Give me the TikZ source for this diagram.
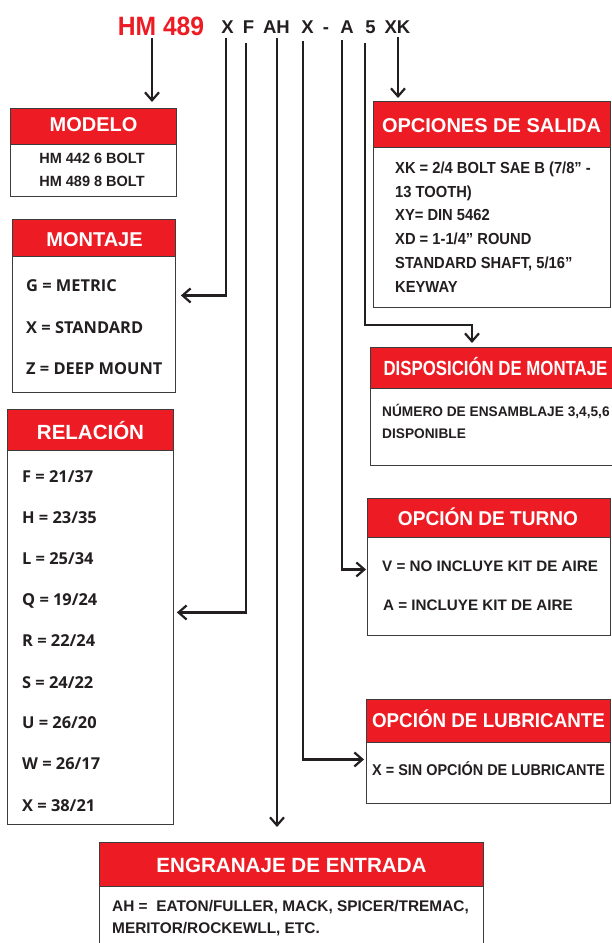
\documentclass[tikz,border=0pt]{standalone}
\usepackage{fontspec}
\setmainfont{Liberation Sans}
\newfontfamily\osans{Open Sans}
\usetikzlibrary{arrows.meta}
\definecolor{hred}{HTML}{ED1C24}
\definecolor{ink}{HTML}{231F20}
\definecolor{frame}{HTML}{3C3C3C}
\newcommand{\opcx}[1]{\scalebox{0.92}[1]{#1}}
\begin{document}
\begin{tikzpicture}[x=1pt,y=-1pt,
  conn/.style={draw=ink, line width=2.2pt, -{Straight Barb[length=8pt,width=14pt]}},
  boxframe/.style={draw=frame, line width=0.9pt, fill=white, inner sep=0pt, anchor=north west},
  hdrband/.style={draw=frame, line width=0.9pt, fill=hred, inner sep=0pt, anchor=north west},
  htext/.style={text=white, font=\bfseries\fontsize{20}{24}\selectfont, anchor=base, inner sep=0pt},
  btext/.style={text=ink, font=\bfseries\fontsize{14.8}{17}\selectfont, anchor=base west, inner sep=0pt},
  otext/.style={text=ink, font=\osans\bfseries\fontsize{16.4}{19}\selectfont, anchor=base west, inner sep=0pt},
  code/.style={text=ink, font=\bfseries\fontsize{18.5}{22}\selectfont, anchor=base, inner sep=0pt},
]
\useasboundingbox (0,0) rectangle (611,943);
\fill[white] (0,0) rectangle (611,943);

% code line
\node[code, text=hred, font=\bfseries\fontsize{26.5}{30}\selectfont] (hm) at (161,35) {\scalebox{0.93}[1]{HM 489}};
\node[code] (cX1) at (227.5,33) {X};
\node[code] (cF) at (248.5,33) {F};
\node[code] (cAH) at (276.5,33) {AH};
\node[code] (cX2) at (307.5,33) {X};
\node[code] (cdash) at (326,33) {-};
\node[code] (cA) at (347,33) {A};
\node[code] (c5) at (370.5,33) {5};
\node[code] (cXK) at (397.5,33) {XK};

% MODELO
\node[boxframe, minimum width=166pt, minimum height=88pt] (modelo) at (10,108) {};
\node[hdrband, minimum width=166pt, minimum height=36pt] (modeloH) at (10,108) {};
\node[htext] (modeloT) at (93.5,131) {MODELO};
\node[btext, anchor=base, font=\bfseries\fontsize{14.8}{17}\selectfont] (mod1) at (92,163) {\scalebox{0.98}[1]{HM 442 6 BOLT}};
\node[btext, anchor=base, font=\bfseries\fontsize{14.8}{17}\selectfont] (mod2) at (92,186) {\scalebox{0.98}[1]{HM 489 8 BOLT}};

% MONTAJE
\node[boxframe, minimum width=163pt, minimum height=173pt] (montaje) at (12,219) {};
\node[hdrband, minimum width=163pt, minimum height=37pt] (montajeH) at (12,219) {};
\node[htext] (montajeT) at (94.5,246) {MONTAJE};
\node[otext] (mon1) at (26,291) {G = METRIC};
\node[otext] (mon2) at (26,333) {X = STANDARD};
\node[otext] (mon3) at (26,374) {Z = DEEP MOUNT};

% RELACION
\node[boxframe, minimum width=166pt, minimum height=415pt] (relacion) at (7,409) {};
\node[hdrband, minimum width=166pt, minimum height=41pt] (relacionH) at (7,409) {};
\node[htext, font=\bfseries\fontsize{20.5}{24}\selectfont] (relacionT) at (90.5,439) {RELACIÓN};
\node[otext] (r1) at (22,482) {F = 21/37};
\node[otext] (r2) at (22,523) {H = 23/35};
\node[otext] (r3) at (22,564) {L = 25/34};
\node[otext] (r4) at (22,605) {Q = 19/24};
\node[otext] (r5) at (22,646) {R = 22/24};
\node[otext] (r6) at (22,688) {S = 24/22};
\node[otext] (r7) at (22,728) {U = 26/20};
\node[otext] (r8) at (22,769) {W = 26/17};
\node[otext] (r9) at (22,811) {X = 38/21};

% OPCIONES DE SALIDA
\node[boxframe, minimum width=237pt, minimum height=206pt] (opc) at (373,101) {};
\node[hdrband, minimum width=237pt, minimum height=46pt] (opcH) at (373,101) {};
\node[htext] (opcT) at (491.5,132) {OPCIONES DE SALIDA};
\tikzset{otx/.style={btext, font=\bfseries\fontsize{16}{19}\selectfont}}
\node[otx] (o1) at (395,173.5) {\opcx{XK = 2/4 BOLT SAE B (7/8” -}};
\node[otx] (o2) at (395,197.5) {\opcx{13 TOOTH)}};
\node[otx] (o3) at (395,220.5) {\opcx{XY= DIN 5462}};
\node[otx] (o4) at (395,244.5) {\opcx{XD = 1-1/4” ROUND}};
\node[otx] (o5) at (395,268.5) {\opcx{STANDARD SHAFT, 5/16”}};
\node[otx] (o6) at (395,292.5) {\opcx{KEYWAY}};

% DISPOSICION DE MONTAJE
\node[boxframe, minimum width=252pt, minimum height=118pt] (dispo) at (370,347) {};
\node[hdrband, minimum width=252pt, minimum height=41pt] (dispoH) at (370,347) {};
\node[htext, font=\bfseries\fontsize{20.5}{24}\selectfont] (dispoT) at (495.5,375.5) {\scalebox{0.82}[1]{DISPOSICIÓN DE MONTAJE}};
\node[btext, font=\bfseries\fontsize{13.9}{16}\selectfont] (d1) at (382,416.5) {\scalebox{0.985}[1]{NÚMERO DE ENSAMBLAJE 3,4,5,6}};
\node[btext, font=\bfseries\fontsize{13.9}{16}\selectfont] (d2) at (382,438.5) {\scalebox{0.985}[1]{DISPONIBLE}};

% OPCION DE TURNO
\node[boxframe, minimum width=243pt, minimum height=137pt] (turno) at (367,498) {};
\node[hdrband, minimum width=243pt, minimum height=39pt] (turnoH) at (367,498) {};
\node[htext] (turnoT) at (488,525.5) {\scalebox{0.953}[1]{OPCIÓN DE TURNO}};
\node[btext, font=\bfseries\fontsize{15.2}{18}\selectfont] (t1) at (382,571.5) {V = NO INCLUYE KIT DE AIRE};
\node[btext, font=\bfseries\fontsize{15.2}{18}\selectfont] (t2) at (383,610.5) {A = INCLUYE KIT DE AIRE};

% OPCION DE LUBRICANTE
\node[boxframe, minimum width=244pt, minimum height=104pt] (lubr) at (366,699) {};
\node[hdrband, minimum width=244pt, minimum height=43pt] (lubrH) at (366,699) {};
\node[htext] (lubrT) at (488.5,727.5) {\scalebox{0.94}[1]{OPCIÓN DE LUBRICANTE}};
\node[btext, font=\bfseries\fontsize{15.6}{18}\selectfont] (l1) at (372,775.5) {\scalebox{0.925}[1]{X = SIN OPCIÓN DE LUBRICANTE}};

% ENGRANAJE DE ENTRADA
\node[boxframe, minimum width=384pt, minimum height=108pt] (engr) at (99,842) {};
\node[hdrband, minimum width=384pt, minimum height=44pt] (engrH) at (99,842) {};
\node[htext, font=\bfseries\fontsize{20.6}{24}\selectfont] (engrT) at (291.5,872) {ENGRANAJE DE ENTRADA};
\node[btext, font=\bfseries\fontsize{15.4}{18}\selectfont] (e1) at (112,911) {AH = \ EATON/FULLER, MACK, SPICER/TREMAC,};
\node[btext, font=\bfseries\fontsize{15.4}{18}\selectfont] (e2) at (112,933) {MERITOR/ROCKEWLL, ETC.};

% connectors
\coordinate (bend5) at (472,325);
\draw[conn, shorten >=6pt] ([xshift=-9pt,yshift=-3pt]hm.south) -- ([xshift=-9pt]hm.south |- modelo.north);
\draw[conn] ([xshift=-1.5pt,yshift=-5pt]cX1.south) |- ([xshift=5pt,yshift=10.5pt]montaje.east);
\draw[conn] ([xshift=-2.5pt,yshift=-10pt]cF.south) |- ([xshift=3pt,yshift=4.5pt]relacion.east);
\draw[conn, shorten >=15pt] ([xshift=0.5pt,yshift=-5pt]cAH.south) -- ([xshift=0.5pt]cAH.south |- engr.north);
\draw[conn] ([xshift=-4.5pt,yshift=-8pt]cX2.south) |- ([xshift=-2pt,yshift=-8pt]lubr.west);
\draw[conn] ([xshift=-5pt,yshift=-7pt]cA.south) |- ([xshift=-1pt,yshift=-2.5pt]turno.west);
\draw[conn, shorten >=4pt] ([xshift=-5.5pt,yshift=-10pt]c5.south) |- (bend5) -- (bend5 |- dispo.north);
\draw[conn, shorten >=3pt] ([xshift=0.5pt,yshift=-4pt]cXK.south) -- ([xshift=0.5pt]cXK.south |- opc.north);
\end{tikzpicture}
\end{document}
